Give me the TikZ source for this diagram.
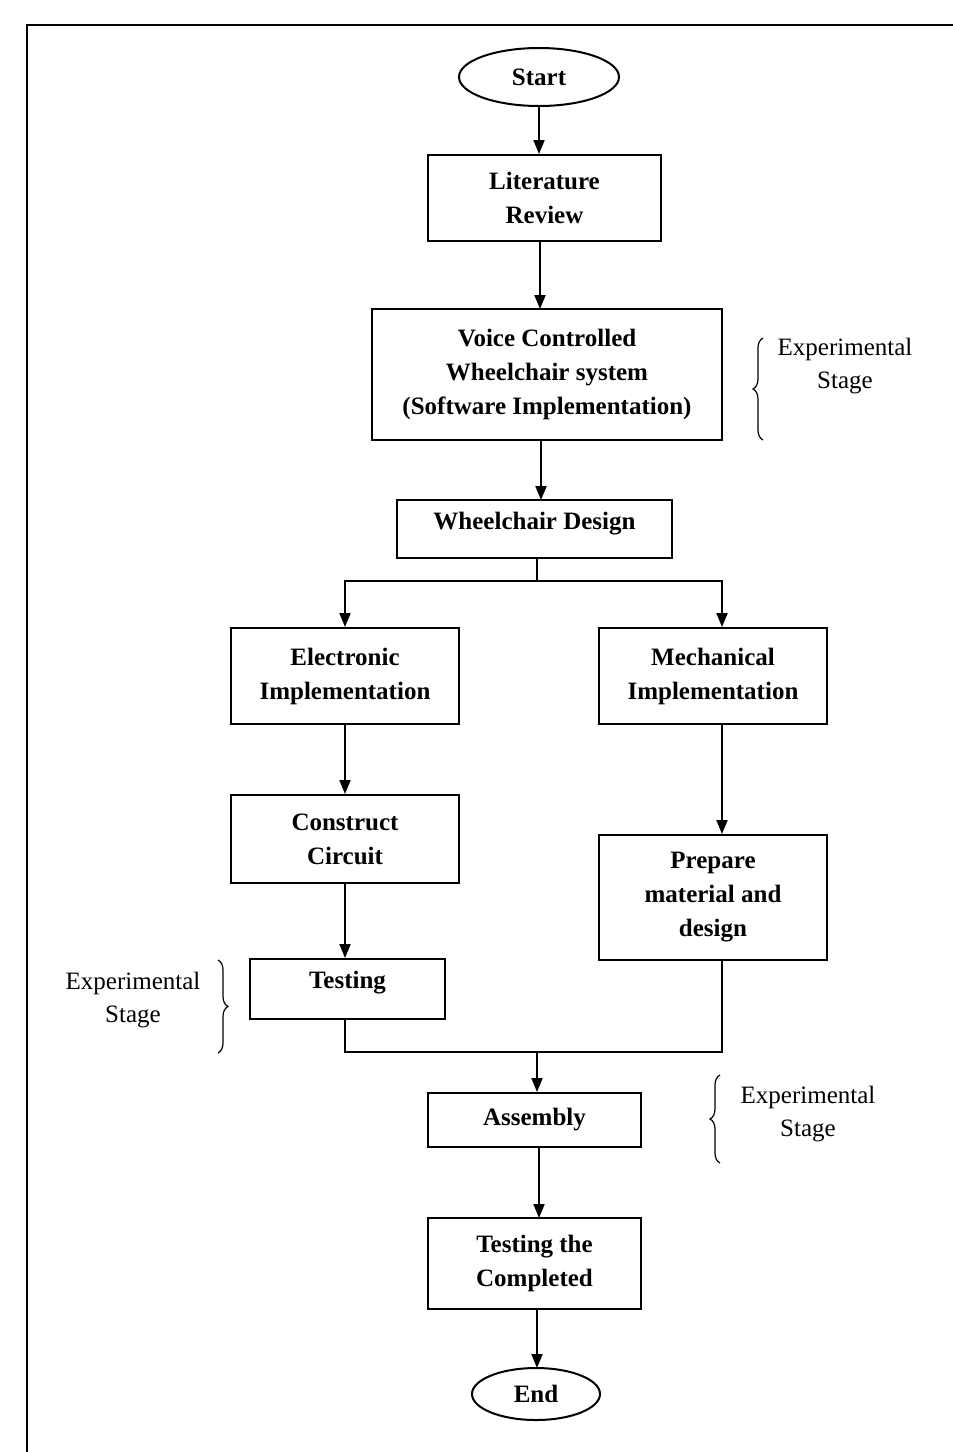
\documentclass[tikz,border=0pt]{standalone}
\usepackage{fontspec}
\setmainfont{Liberation Serif}
\usetikzlibrary{arrows.meta,shapes.geometric,decorations.pathreplacing}
\begin{document}
\begin{tikzpicture}[x=1pt,y=-1pt,
  box/.style={draw,line width=2pt,align=center,inner sep=0pt,font=\fontsize{25}{34}\selectfont\bfseries},
  term/.style={draw,ellipse,line width=2pt,inner sep=0pt,font=\fontsize{25}{34}\selectfont\bfseries},
  stagetxt/.style={align=center,font=\fontsize{25}{33}\selectfont},
  arr/.style={line width=2pt,-{Triangle[length=14pt,width=11pt]}},
  ln/.style={line width=2pt},
  brc/.style={line width=1.2pt,decorate,decoration={brace,amplitude=10pt}}]
\useasboundingbox (0,0) rectangle (953,1452);
\fill[white] (0,0) rectangle (953,1452);
\draw[line width=2.5pt] (27,1452) -- (27,25) -- (953,25);
% nodes
\node[term,minimum width=160pt,minimum height=58pt] (start) at (539,77) {Start};
\node[box,minimum width=233pt,minimum height=86pt] (lit) at (544.5,198) {Literature\\Review};
\node[box,minimum width=350pt,minimum height=131pt] (voice) at (547,374.5) {Voice Controlled\\Wheelchair system\\(Software Implementation)};
\node[box,minimum width=275pt,minimum height=58pt] (wd) at (534.5,529) {\raisebox{5pt}[\height][\depth]{Wheelchair Design}};
\node[box,minimum width=228pt,minimum height=96pt] (elec) at (345,676) {Electronic\\Implementation};
\node[box,minimum width=228pt,minimum height=96pt] (mech) at (713,676) {Mechanical\\Implementation};
\node[box,minimum width=228pt,minimum height=88pt] (cons) at (345,839) {Construct\\Circuit};
\node[box,minimum width=228pt,minimum height=125pt] (prep) at (713,897.5) {Prepare\\material and\\design};
\node[box,minimum width=195pt,minimum height=60pt] (test) at (347.5,989) {\raisebox{6pt}[\height][\depth]{Testing}};
\node[box,minimum width=213pt,minimum height=54pt] (asm) at (534.5,1120) {Assembly};
\node[box,minimum width=213pt,minimum height=91pt] (tc) at (534.5,1263.5) {Testing the\\Completed};
\node[term,minimum width=128pt,minimum height=52pt] (end) at (536,1394) {End};
% stage labels
\node[stagetxt] (s1) at (845,366) {Experimental\\Stage};
\node[stagetxt] (s2) at (133,1000) {Experimental\\Stage};
\node[stagetxt] (s3) at (808,1114) {Experimental\\Stage};
\coordinate (b1a) at (763,440); \coordinate (b1b) at (763,338);
\coordinate (b2a) at (218,960); \coordinate (b2b) at (218,1053);
\coordinate (b3a) at (720,1163); \coordinate (b3b) at (720,1075);
\draw[brc] (b1a) -- (b1b);
\draw[brc] (b2a) -- (b2b);
\draw[brc] (b3a) -- (b3b);
% connectors
\coordinate (split) at (537,581);
\coordinate (join) at (537,1052);
\draw[arr] (start.south) -- (start.south |- lit.north);
\draw[arr] (540,241) -- (540,309);
\draw[arr] (541,440) -- (541,500);
\draw[ln] (split |- wd.south) -- (split);
\draw[arr] (split) -| (elec.north);
\draw[arr] (split) -| ([xshift=9pt]mech.north);
\draw[arr] (elec.south) -- (cons.north);
\draw[arr] (cons.south) -- (cons.south |- test.north);
\draw[arr] ([xshift=9pt]mech.south) -- ([xshift=9pt]prep.north);
\draw[ln] (cons.south |- test.south) |- (join) -| ([xshift=9pt]prep.south);
\draw[arr] (join) -- (join |- asm.north);
\draw[arr] (539,1147) -- (539,1218);
\draw[arr] (537,1309) -- (537,1368);
\end{tikzpicture}
\end{document}
